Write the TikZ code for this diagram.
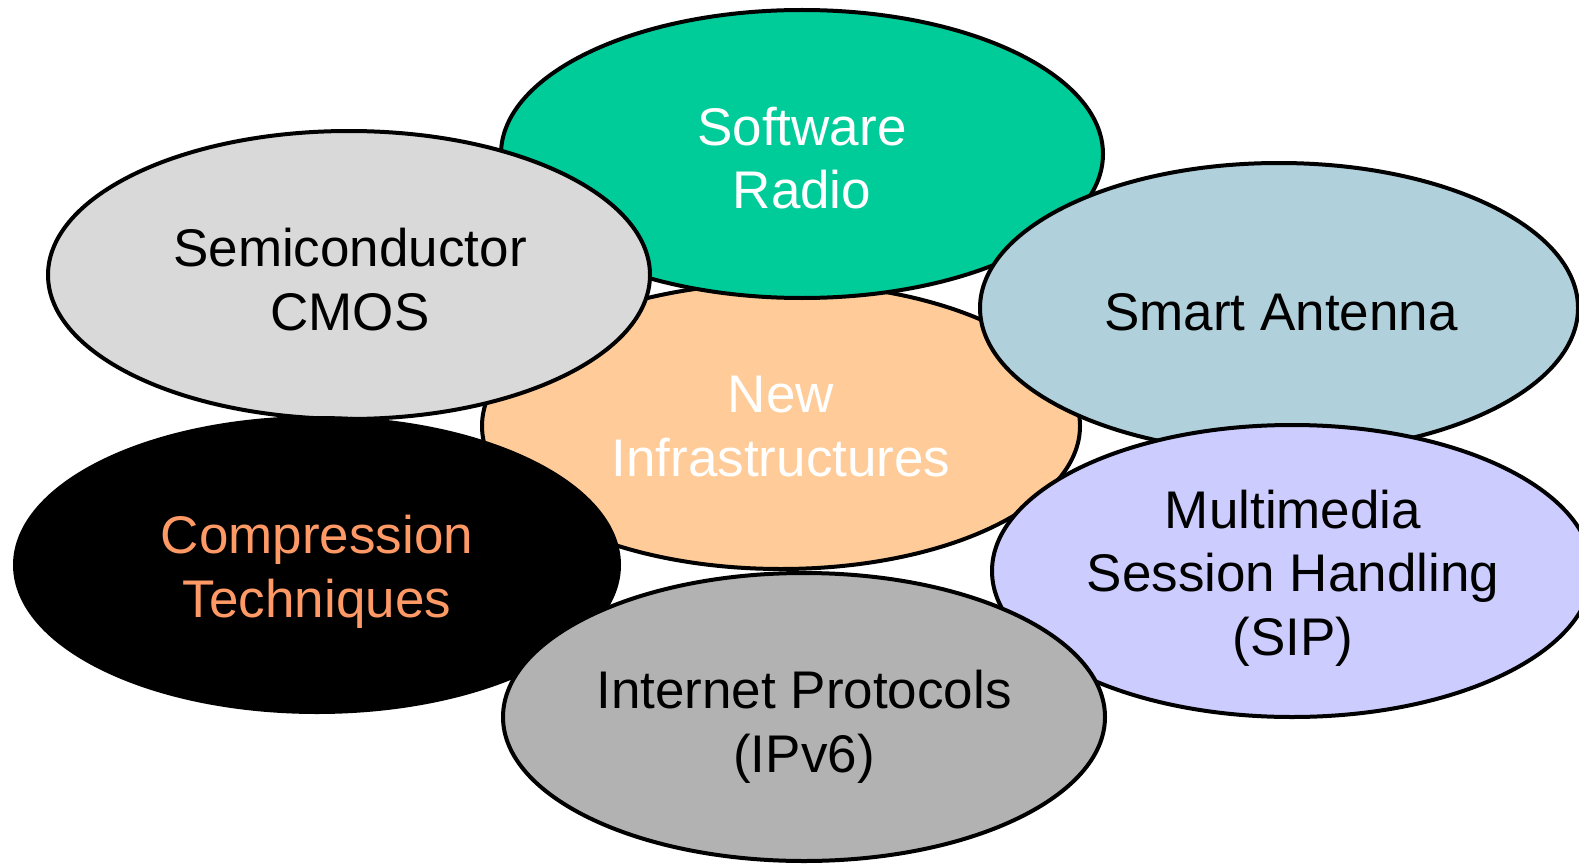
\documentclass[tikz,border=0pt]{standalone}
\usepackage{fontspec}
\setmainfont{Liberation Sans}
\begin{document}
\begin{tikzpicture}[x=1pt,y=-1pt,
  blob/.style={draw=black,line width=4pt},
  lbl/.style={anchor=base,align=center,inner sep=0pt,font=\fontsize{53}{63.5}\selectfont}]
\useasboundingbox (0,0) rectangle (1579,864);
\begin{scope}
\clip (0,0) rectangle (1579,864);
\definecolor{cInfra}{HTML}{FFCC99}
\definecolor{cRadio}{HTML}{00CC99}
\definecolor{cSemi}{HTML}{D9D9D9}
\definecolor{cAnt}{HTML}{B0D0DC}
\definecolor{cMulti}{HTML}{CCCCFF}
\definecolor{cInet}{HTML}{B2B2B2}
\definecolor{cComp}{HTML}{FF9966}
\fill[cInfra,blob] (781,426) ellipse [x radius=299,y radius=143];
\fill[cRadio,blob] (802,154) ellipse [x radius=301,y radius=144];
\fill[cSemi,blob] (349,275) ellipse [x radius=301,y radius=144];
\fill[cAnt,blob] (1279,308) ellipse [x radius=299,y radius=145];
\fill[black,blob] (317,565) ellipse [x radius=302,y radius=147];
\fill[cMulti,blob] (1292,571) ellipse [x radius=300,y radius=146];
\fill[cInet,blob] (804,717) ellipse [x radius=301,y radius=144];
\node[lbl,text=white] (radio) at (802,208.5) {Software\\Radio};
\node[lbl] (semi) at (350,330) {Semiconductor\\CMOS};
\node[lbl] (ant) at (1281,330) {Smart Antenna};
\node[lbl,text=white] (infra) at (781,476) {New\\Infrastructures};
\node[lbl,text=cComp] (comp) at (317,617) {Compression\\Techniques};
\node[lbl] (multi) at (1293,655) {Multimedia\\Session Handling\\(SIP)};
\node[lbl] (inet) at (804,772) {Internet Protocols\\(IPv6)};
\end{scope}
\end{tikzpicture}
\end{document}
